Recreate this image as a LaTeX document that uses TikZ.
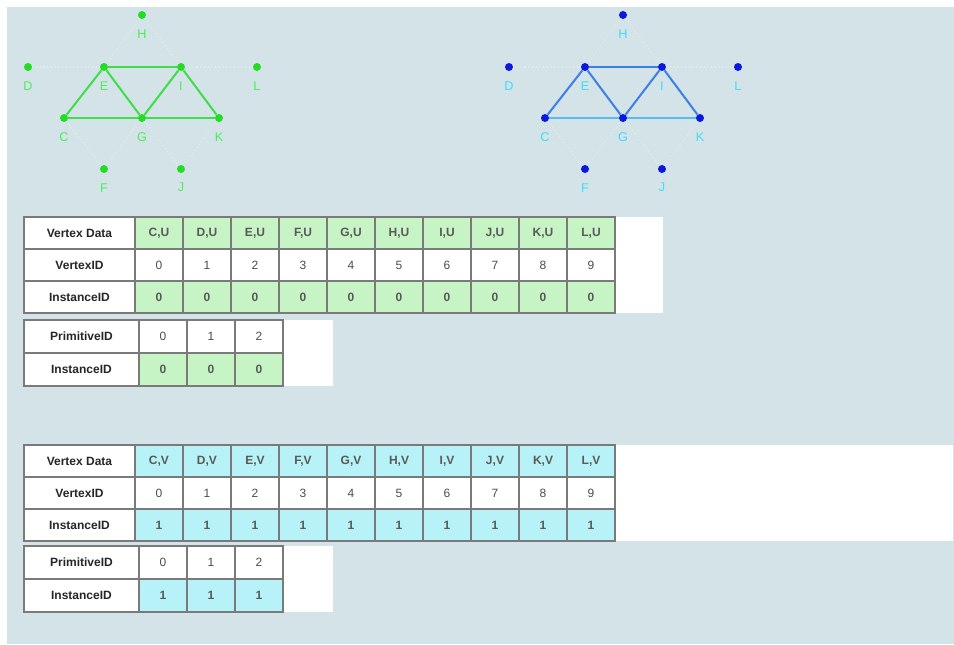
\documentclass[tikz,border=0pt]{standalone}
\usepackage{fontspec}
\setmainfont{Liberation Sans}
\definecolor{bgblue}{HTML}{D3E3E8}
\definecolor{gdot}{HTML}{22DD22}
\definecolor{gline}{HTML}{3FDD48}
\definecolor{gtext}{HTML}{4CEE5A}
\definecolor{bdot}{HTML}{0A18E0}
\definecolor{bline}{HTML}{3A80E6}
\definecolor{bsoft}{HTML}{55BDEE}
\definecolor{btext}{HTML}{40DCF8}
\definecolor{adjline}{HTML}{E3EDF0}
\definecolor{gcell}{HTML}{C6F4C4}
\definecolor{bcell}{HTML}{B6F2F7}
\definecolor{gridgray}{HTML}{7A7A7A}

\tikzset{
  vdot/.style={circle,fill,inner sep=0pt,minimum size=6pt},
  vlabel/.style={font=\fontsize{9.5}{10}\selectfont,inner sep=0pt},
  stripedge/.style={line width=1.5pt},
  adjedge/.style={adjline,line width=0.8pt,dotted},
  cellgrid/.style={draw=gridgray,line width=1pt},
  headtext/.style={font=\fontsize{9}{10}\selectfont\bfseries,text=black!85},
  celltext/.style={font=\fontsize{9}{10}\selectfont\bfseries,text=black!65},
  numtext/.style={font=\fontsize{9}{10}\selectfont,text=black!70}
}

% one triangle strip with adjacency, names get prefix #1
\newcommand{\stripgraph}[1]{%
  \node[vdot] (#1H) at (142,15) {};
  \node[vdot] (#1D) at (28,67) {};
  \node[vdot] (#1E) at (104,67) {};
  \node[vdot] (#1I) at (181,67) {};
  \node[vdot] (#1L) at (257,67) {};
  \node[vdot] (#1C) at (64,118) {};
  \node[vdot] (#1G) at (142,118) {};
  \node[vdot] (#1K) at (219,118) {};
  \node[vdot] (#1F) at (104,169) {};
  \node[vdot] (#1J) at (181,169) {};
  % adjacency
  \draw[adjedge] (#1D) -- (#1E);
  \draw[adjedge] (#1H) -- (#1E);
  \draw[adjedge] (#1H) -- (#1I);
  \draw[adjedge] (#1I) -- (#1L);
  \draw[adjedge] (#1C) -- (#1F);
  \draw[adjedge] (#1F) -- (#1G);
  \draw[adjedge] (#1G) -- (#1J);
  \draw[adjedge] (#1J) -- (#1K);
  % triangles
  \draw[stripedge,softedge] (#1C) -- (#1G) -- (#1K);
  \draw[stripedge,mainedge] (#1C) -- (#1E) -- (#1G) -- (#1I) -- (#1K);
  \draw[stripedge,mainedge] (#1E) -- (#1I);
  % labels
  \foreach \v in {H,D,E,I,L,C,G,K,F,J}
    \node[vlabel] (#1lbl\v) at ([yshift=-14pt]#1\v) {\v};
}

% vertex table: #1 top, #2 suffix, #3 instance, #4 fill, #5 right end
\newcommand{\vertextable}[5]{%
  \fill[white] (24,#1) rectangle (#5,#1+96);
  \foreach \row/\txt in {0/Vertex Data,1/VertexID,2/InstanceID} {
    \draw[cellgrid] (24,#1+32*\row) rectangle +(111,32);
    \node[headtext] at (79.5,#1+16+32*\row) {\txt};
  }
  \foreach \v [count=\i from 0] in {C,D,E,F,G,H,I,J,K,L} {
    \draw[cellgrid,fill=#4] (135+48*\i,#1) rectangle +(48,32);
    \draw[cellgrid] (135+48*\i,#1+32) rectangle +(48,32);
    \draw[cellgrid,fill=#4] (135+48*\i,#1+64) rectangle +(48,32);
    \node[celltext] at (159+48*\i,#1+16) {\v,#2};
    \node[numtext] at (159+48*\i,#1+48) {\i};
    \node[celltext] at (159+48*\i,#1+80) {#3};
  }
}

% primitive table: #1 top, #2 instance, #3 fill
\newcommand{\primtable}[3]{%
  \fill[white] (24,#1) rectangle (333,#1+66);
  \draw[cellgrid] (24,#1) rectangle +(115,33);
  \node[headtext] at (81.5,#1+16.5) {PrimitiveID};
  \draw[cellgrid] (24,#1+33) rectangle +(115,33);
  \node[headtext] at (81.5,#1+49.5) {InstanceID};
  \foreach \i in {0,1,2} {
    \draw[cellgrid] (139+48*\i,#1) rectangle +(48,33);
    \draw[cellgrid,fill=#3] (139+48*\i,#1+33) rectangle +(48,33);
    \node[numtext] at (163+48*\i,#1+16.5) {\i};
    \node[celltext] at (163+48*\i,#1+49.5) {#2};
  }
}

\begin{document}
\begin{tikzpicture}[x=0.75pt,y=-0.75pt]
\useasboundingbox (0,0) rectangle (954,644);
\fill[white] (0,0) rectangle (954,644);
\fill[bgblue] (7,7) rectangle (954,644);

% instance 0
\begin{scope}[vdot/.append style={gdot},vlabel/.append style={text=gtext},
  mainedge/.style={gline},softedge/.style={gline}]
\stripgraph{u}
\end{scope}

% instance 1
\begin{scope}[xshift=360.75pt,vdot/.append style={bdot},vlabel/.append style={text=btext},
  mainedge/.style={bline},softedge/.style={bsoft}]
\stripgraph{v}
\end{scope}

\vertextable{217}{U}{0}{gcell}{663}
\primtable{320}{0}{gcell}

\vertextable{445}{V}{1}{bcell}{953}
\primtable{546}{1}{bcell}
\end{tikzpicture}
\end{document}
